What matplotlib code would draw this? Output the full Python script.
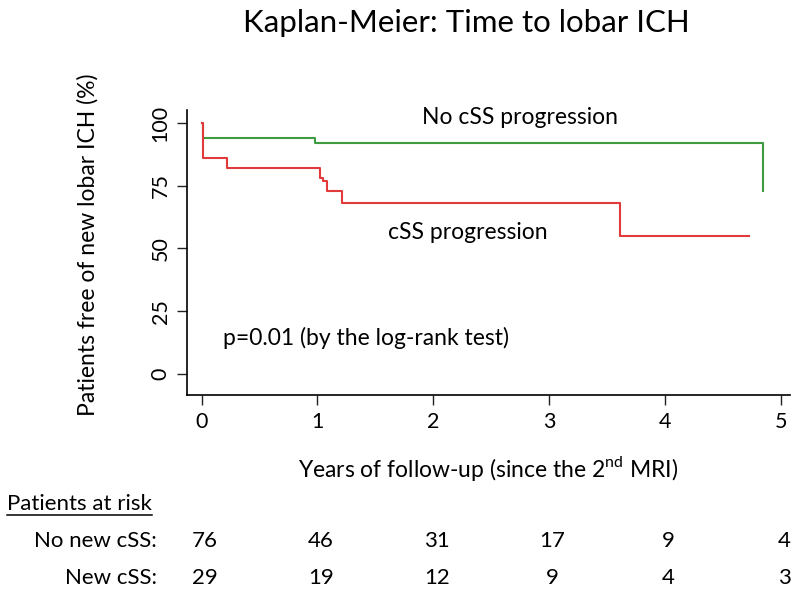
import matplotlib
matplotlib.use("Agg")
import matplotlib.pyplot as plt
from matplotlib.lines import Line2D
import matplotlib.transforms as mtransforms

plt.rcParams['font.family'] = ['Lato', 'DejaVu Sans']
plt.rcParams['mathtext.fontset'] = 'custom'
plt.rcParams['mathtext.rm'] = 'Lato'

# Data
no_css_time = [0, 0.01, 0.98, 4.85]
no_css_surv = [100, 94, 92, 73]
css_time = [0, 0.01, 0.22, 1.025, 1.05, 1.08, 1.21, 3.61, 4.73]
css_surv = [100, 86, 82, 78, 77, 73, 68, 55, 55]
x_ticks = [0, 1, 2, 3, 4, 5]
y_ticks = [0, 25, 50, 75, 100]
risk_no_new = [76, 46, 31, 17, 9, 4]
risk_new = [29, 19, 12, 9, 4, 3]

fig = plt.figure(figsize=(8, 5.93), dpi=100)
ax = fig.add_axes([0.234, 0.334, 0.7535, 0.4805])

ax.step(no_css_time, no_css_surv, where='post', color='#3f9b3f', lw=1.5)
ax.step(css_time, css_surv, where='post', color='#e2393b', lw=1.5)

ax.set_xlim(-0.125, 5.08)
ax.set_ylim(-8.4, 105.2)
ax.spines['top'].set_visible(False)
ax.spines['right'].set_visible(False)
for s in ('left', 'bottom'):
    ax.spines[s].set_linewidth(1.2)
ax.set_xticks(x_ticks)
ax.set_yticks(y_ticks)
ax.tick_params(axis='both', labelsize=15.5, length=7, width=1, direction='out', color='#222222')
ax.tick_params(axis='x', pad=5)
ax.tick_params(axis='y', pad=5)
for lab in ax.get_yticklabels():
    lab.set_rotation(90)
    lab.set_va('center')

ax.set_ylabel('Patients free of new lobar ICH (%)', fontsize=16.5)
ax.yaxis.set_label_coords((99 - 187.5) / (0.7535 * 800), 0.526)
ax.set_xlabel(r'Years of follow-up (since the 2$^{\mathrm{nd}}$ MRI)', fontsize=16.5, labelpad=16)

ax.text(2.75, 102.4, 'No cSS progression', fontsize=16.5, ha='center', va='center')
ax.text(2.3, 56.2, 'cSS progression', fontsize=16.5, ha='center', va='center')
ax.text(0.18, 14.3, 'p=0.01 (by the log-rank test)', fontsize=16.5, ha='left', va='center')

fig.text(0.583, 1 - 23 / 593, 'Kaplan-Meier: Time to lobar ICH', fontsize=22.5, ha='center', va='center')

# Risk table
t = fig.text(0.009, 1 - 504 / 593, 'Patients at risk', fontsize=16, ha='left', va='center')
fig.canvas.draw()
bb = t.get_window_extent(renderer=fig.canvas.get_renderer())
bbf = bb.transformed(fig.transFigure.inverted())
fig.add_artist(Line2D([bbf.x0, bbf.x1], [1 - 515 / 593] * 2, transform=fig.transFigure,
                      color='black', lw=1.1))

trans = mtransforms.blended_transform_factory(ax.transData, fig.transFigure)
y1 = 1 - 541 / 593
y2 = 1 - 578 / 593
fig.text(157 / 800, y1, 'No new cSS:', fontsize=16, ha='right', va='center')
fig.text(157 / 800, y2, 'New cSS:', fontsize=16, ha='right', va='center')
for xv, a, b in zip(x_ticks, risk_no_new, risk_new):
    ax.text(xv + 0.03, y1, str(a), transform=trans, fontsize=16, ha='center', va='center', clip_on=False)
    ax.text(xv + 0.03, y2, str(b), transform=trans, fontsize=16, ha='center', va='center', clip_on=False)

fig.savefig('out.png', dpi=100)
